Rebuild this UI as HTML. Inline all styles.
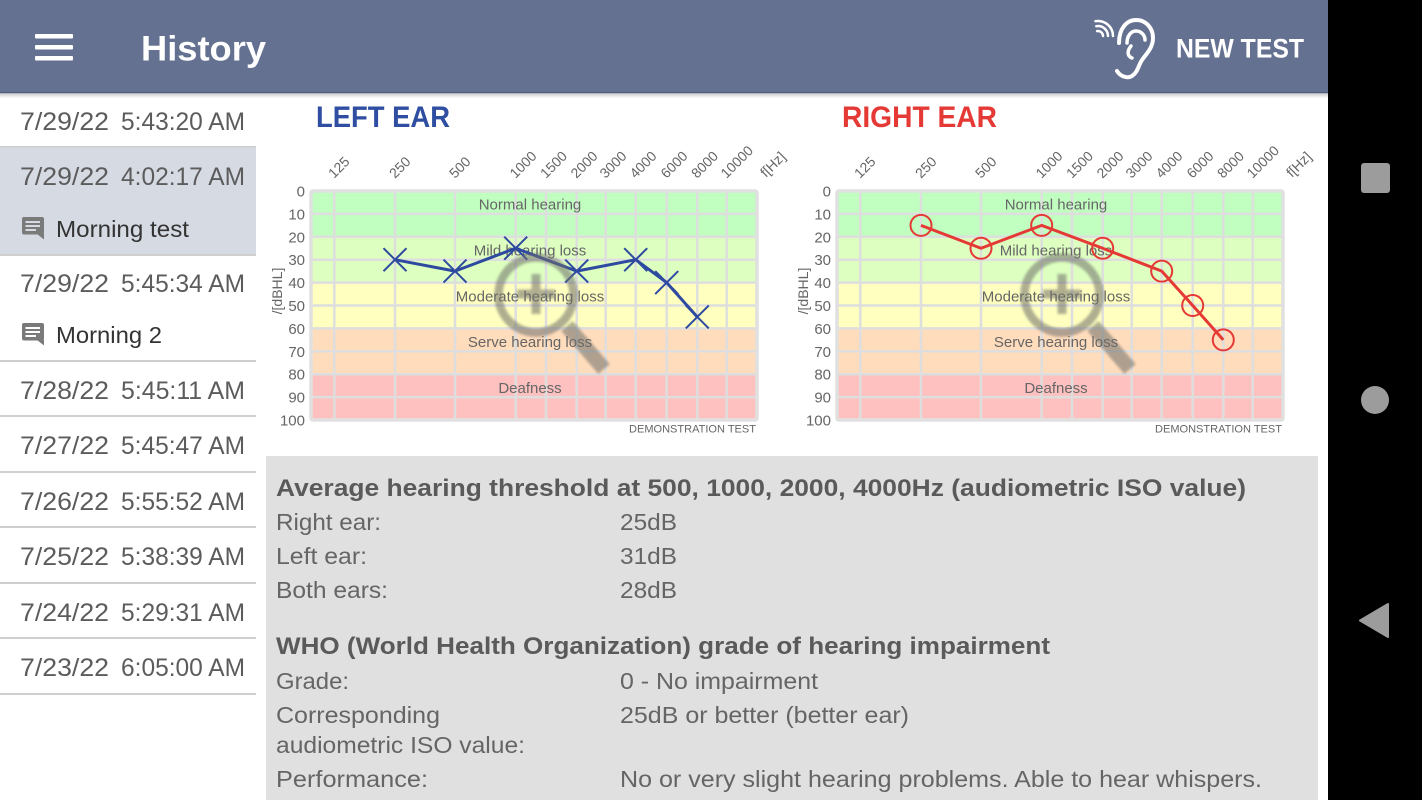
<!DOCTYPE html>
<html>
<head>
<meta charset="utf-8">
<style>
  html,body{margin:0;padding:0;background:#fff;}
  body{width:1422px;height:800px;overflow:hidden;}
  svg{display:block;font-family:"Liberation Sans", Arial, sans-serif;}
</style>
</head>
<body>
<svg width="1422" height="800" viewBox="0 0 1422 800" xmlns="http://www.w3.org/2000/svg">
  <defs>
    <linearGradient id="sh" x1="0" y1="0" x2="0" y2="1">
      <stop offset="0" stop-color="#000" stop-opacity="0.22"/>
      <stop offset="1" stop-color="#000" stop-opacity="0"/>
    </linearGradient>
    <filter id="bl" x="-20%" y="-20%" width="140%" height="140%">
      <feGaussianBlur stdDeviation="1.2"/>
    </filter>
  </defs>

  <!-- page background -->
  <rect x="0" y="0" width="1422" height="800" fill="#ffffff"/>

  <!-- ============ SIDEBAR ============ -->
  <rect x="0" y="147" width="256" height="108" fill="#d6dae3"/>
  <g fill="#cfcfcf">
    <rect x="0" y="146" width="256" height="1.5"/>
    <rect x="0" y="254" width="256" height="2"/>
    <rect x="0" y="360" width="256" height="2"/>
    <rect x="0" y="415" width="256" height="2"/>
    <rect x="0" y="471" width="256" height="2"/>
    <rect x="0" y="526" width="256" height="2"/>
    <rect x="0" y="582" width="256" height="2"/>
    <rect x="0" y="637" width="256" height="2"/>
    <rect x="0" y="693" width="256" height="2"/>
  </g>
  <g font-size="25" fill="#5c5c5c">
    <text x="20" y="130" textLength="89" lengthAdjust="spacingAndGlyphs">7/29/22</text>
    <text x="121" y="130" textLength="124" lengthAdjust="spacingAndGlyphs">5:43:20 AM</text>
    <text x="20" y="185" textLength="89" lengthAdjust="spacingAndGlyphs">7/29/22</text>
    <text x="121" y="185" textLength="124" lengthAdjust="spacingAndGlyphs">4:02:17 AM</text>
    <text x="20" y="292" textLength="89" lengthAdjust="spacingAndGlyphs">7/29/22</text>
    <text x="121" y="292" textLength="124" lengthAdjust="spacingAndGlyphs">5:45:34 AM</text>
    <text x="20" y="399" textLength="89" lengthAdjust="spacingAndGlyphs">7/28/22</text>
    <text x="121" y="399" textLength="124" lengthAdjust="spacingAndGlyphs">5:45:11 AM</text>
    <text x="20" y="454" textLength="89" lengthAdjust="spacingAndGlyphs">7/27/22</text>
    <text x="121" y="454" textLength="124" lengthAdjust="spacingAndGlyphs">5:45:47 AM</text>
    <text x="20" y="510" textLength="89" lengthAdjust="spacingAndGlyphs">7/26/22</text>
    <text x="121" y="510" textLength="124" lengthAdjust="spacingAndGlyphs">5:55:52 AM</text>
    <text x="20" y="565" textLength="89" lengthAdjust="spacingAndGlyphs">7/25/22</text>
    <text x="121" y="565" textLength="124" lengthAdjust="spacingAndGlyphs">5:38:39 AM</text>
    <text x="20" y="621" textLength="89" lengthAdjust="spacingAndGlyphs">7/24/22</text>
    <text x="121" y="621" textLength="124" lengthAdjust="spacingAndGlyphs">5:29:31 AM</text>
    <text x="20" y="676" textLength="89" lengthAdjust="spacingAndGlyphs">7/23/22</text>
    <text x="121" y="676" textLength="124" lengthAdjust="spacingAndGlyphs">6:05:00 AM</text>
  </g>
  <!-- comment icons -->
  <g>
    <rect x="22" y="217" width="22" height="17.5" rx="2" fill="#7a7a7a"/>
    <polygon points="37,234 44,234 44,239.5" fill="#7a7a7a"/>
    <rect x="25.5" y="221" width="14.5" height="2" fill="#d6dae3"/>
    <rect x="25.5" y="225" width="14.5" height="2" fill="#d6dae3"/>
    <rect x="25.5" y="229" width="10.5" height="2" fill="#d6dae3"/>

    <rect x="22" y="323" width="22" height="17.5" rx="2" fill="#7a7a7a"/>
    <polygon points="37,340 44,340 44,345.5" fill="#7a7a7a"/>
    <rect x="25.5" y="327" width="14.5" height="2" fill="#fff"/>
    <rect x="25.5" y="331" width="14.5" height="2" fill="#fff"/>
    <rect x="25.5" y="335" width="10.5" height="2" fill="#fff"/>
  </g>
  <g font-size="23" fill="#333">
    <text x="56" y="237" textLength="133" lengthAdjust="spacingAndGlyphs">Morning test</text>
    <text x="56" y="343" textLength="106" lengthAdjust="spacingAndGlyphs">Morning 2</text>
  </g>

  <!-- ============ LEFT CHART ============ -->
  <text x="316" y="127" font-size="30" font-weight="bold" fill="#2f4ea1" textLength="134" lengthAdjust="spacingAndGlyphs">LEFT EAR</text>
  <g>
    <rect x="311" y="191" width="446" height="45.8" fill="#c0ffc0"/>
    <rect x="311" y="236.8" width="446" height="45.8" fill="#ddffc0"/>
    <rect x="311" y="282.6" width="446" height="45.8" fill="#ffffc0"/>
    <rect x="311" y="328.4" width="446" height="45.8" fill="#ffdcbc"/>
    <rect x="311" y="374.2" width="446" height="45.8" fill="#ffc0c0"/>
    <g stroke="#dedede" stroke-width="2.5">
      <line x1="311" y1="213.9" x2="757" y2="213.9"/>
      <line x1="311" y1="236.8" x2="757" y2="236.8"/>
      <line x1="311" y1="259.7" x2="757" y2="259.7"/>
      <line x1="311" y1="282.6" x2="757" y2="282.6"/>
      <line x1="311" y1="305.5" x2="757" y2="305.5"/>
      <line x1="311" y1="328.4" x2="757" y2="328.4"/>
      <line x1="311" y1="351.3" x2="757" y2="351.3"/>
      <line x1="311" y1="374.2" x2="757" y2="374.2"/>
      <line x1="311" y1="397.1" x2="757" y2="397.1"/>
      <line x1="334.3" y1="191" x2="334.3" y2="420"/>
      <line x1="395" y1="191" x2="395" y2="420"/>
      <line x1="455" y1="191" x2="455" y2="420"/>
      <line x1="515.7" y1="191" x2="515.7" y2="420"/>
      <line x1="546" y1="191" x2="546" y2="420"/>
      <line x1="576.7" y1="191" x2="576.7" y2="420"/>
      <line x1="605.7" y1="191" x2="605.7" y2="420"/>
      <line x1="635.7" y1="191" x2="635.7" y2="420"/>
      <line x1="666.7" y1="191" x2="666.7" y2="420"/>
      <line x1="697.3" y1="191" x2="697.3" y2="420"/>
      <line x1="726.7" y1="191" x2="726.7" y2="420"/>
    </g>
    <rect x="311" y="191" width="446" height="229" rx="2" fill="none" stroke="#e0e0e0" stroke-width="3.5"/>
    <g font-size="15" fill="#666" text-anchor="middle">
      <text x="530" y="209.5">Normal hearing</text>
      <text x="530" y="255.5">Mild hearing loss</text>
      <text x="530" y="301.5">Moderate hearing loss</text>
      <text x="530" y="347">Serve hearing loss</text>
      <text x="530" y="393">Deafness</text>
    </g>
    <g font-size="15" fill="#666" text-anchor="end">
      <text x="305" y="196.5">0</text>
      <text x="305" y="219.4">10</text>
      <text x="305" y="242.3">20</text>
      <text x="305" y="265.2">30</text>
      <text x="305" y="288.1">40</text>
      <text x="305" y="311">50</text>
      <text x="305" y="333.9">60</text>
      <text x="305" y="356.8">70</text>
      <text x="305" y="379.7">80</text>
      <text x="305" y="402.6">90</text>
      <text x="305" y="425.5">100</text>
    </g>
    <text x="0" y="0" font-size="14" fill="#666" text-anchor="middle" transform="translate(282,291) rotate(-90)">/[dBHL]</text>
    <g font-size="14" fill="#666">
      <text transform="translate(334,179) rotate(-45)">125</text>
      <text transform="translate(395,179) rotate(-45)">250</text>
      <text transform="translate(455,179) rotate(-45)">500</text>
      <text transform="translate(515.5,179) rotate(-45)">1000</text>
      <text transform="translate(546,179) rotate(-45)">1500</text>
      <text transform="translate(576.5,179) rotate(-45)">2000</text>
      <text transform="translate(605.5,179) rotate(-45)">3000</text>
      <text transform="translate(635.5,179) rotate(-45)">4000</text>
      <text transform="translate(666.5,179) rotate(-45)">6000</text>
      <text transform="translate(697,179) rotate(-45)">8000</text>
      <text transform="translate(726.5,179) rotate(-45)">10000</text>
      <text transform="translate(766,178) rotate(-45)">f[Hz]</text>
    </g>
    <text x="756" y="432.5" font-size="11" fill="#666" text-anchor="end" textLength="127" lengthAdjust="spacingAndGlyphs">DEMONSTRATION TEST</text>

    <!-- data -->
    <polyline points="395,259.7 455,271.15 515.7,248.25 576.7,271.15 635.7,259.7 666.7,282.6 697.3,316.95" fill="none" stroke="#2e49a0" stroke-width="3" stroke-linejoin="round"/>
    <g stroke="#2e49a0" stroke-width="2">
      <path d="M383.5,248.2 L406.5,271.2 M383.5,271.2 L406.5,248.2"/>
      <path d="M443.5,259.6 L466.5,282.6 M443.5,282.6 L466.5,259.6"/>
      <path d="M504.2,236.7 L527.2,259.7 M504.2,259.7 L527.2,236.7"/>
      <path d="M565.2,259.6 L588.2,282.6 M565.2,282.6 L588.2,259.6"/>
      <path d="M624.2,248.2 L647.2,271.2 M624.2,271.2 L647.2,248.2"/>
      <path d="M655.2,271.1 L678.2,294.1 M655.2,294.1 L678.2,271.1"/>
      <path d="M685.8,305.4 L708.8,328.4 M685.8,328.4 L708.8,305.4"/>
    </g>
    <!-- magnifier -->
    <g opacity="0.55" stroke="#6e6e6a" fill="none" filter="url(#bl)">
      <circle cx="536" cy="295" r="37.5" stroke-width="8.5"/>
      <line x1="536" y1="274" x2="536" y2="314" stroke-width="9"/>
      <line x1="517" y1="294" x2="555" y2="294" stroke-width="9"/>
      <line x1="567" y1="326" x2="604" y2="369" stroke-width="15"/>
    </g>
  </g>

  <!-- ============ RIGHT CHART ============ -->
  <text x="842" y="127" font-size="30" font-weight="bold" fill="#e53935" textLength="155" lengthAdjust="spacingAndGlyphs">RIGHT EAR</text>
  <g transform="translate(526,0)">
    <rect x="311" y="191" width="446" height="45.8" fill="#c0ffc0"/>
    <rect x="311" y="236.8" width="446" height="45.8" fill="#ddffc0"/>
    <rect x="311" y="282.6" width="446" height="45.8" fill="#ffffc0"/>
    <rect x="311" y="328.4" width="446" height="45.8" fill="#ffdcbc"/>
    <rect x="311" y="374.2" width="446" height="45.8" fill="#ffc0c0"/>
    <g stroke="#dedede" stroke-width="2.5">
      <line x1="311" y1="213.9" x2="757" y2="213.9"/>
      <line x1="311" y1="236.8" x2="757" y2="236.8"/>
      <line x1="311" y1="259.7" x2="757" y2="259.7"/>
      <line x1="311" y1="282.6" x2="757" y2="282.6"/>
      <line x1="311" y1="305.5" x2="757" y2="305.5"/>
      <line x1="311" y1="328.4" x2="757" y2="328.4"/>
      <line x1="311" y1="351.3" x2="757" y2="351.3"/>
      <line x1="311" y1="374.2" x2="757" y2="374.2"/>
      <line x1="311" y1="397.1" x2="757" y2="397.1"/>
      <line x1="334.3" y1="191" x2="334.3" y2="420"/>
      <line x1="395" y1="191" x2="395" y2="420"/>
      <line x1="455" y1="191" x2="455" y2="420"/>
      <line x1="515.7" y1="191" x2="515.7" y2="420"/>
      <line x1="546" y1="191" x2="546" y2="420"/>
      <line x1="576.7" y1="191" x2="576.7" y2="420"/>
      <line x1="605.7" y1="191" x2="605.7" y2="420"/>
      <line x1="635.7" y1="191" x2="635.7" y2="420"/>
      <line x1="666.7" y1="191" x2="666.7" y2="420"/>
      <line x1="697.3" y1="191" x2="697.3" y2="420"/>
      <line x1="726.7" y1="191" x2="726.7" y2="420"/>
    </g>
    <rect x="311" y="191" width="446" height="229" rx="2" fill="none" stroke="#e0e0e0" stroke-width="3.5"/>
    <g font-size="15" fill="#666" text-anchor="middle">
      <text x="530" y="209.5">Normal hearing</text>
      <text x="530" y="255.5">Mild hearing loss</text>
      <text x="530" y="301.5">Moderate hearing loss</text>
      <text x="530" y="347">Serve hearing loss</text>
      <text x="530" y="393">Deafness</text>
    </g>
    <g font-size="15" fill="#666" text-anchor="end">
      <text x="305" y="196.5">0</text>
      <text x="305" y="219.4">10</text>
      <text x="305" y="242.3">20</text>
      <text x="305" y="265.2">30</text>
      <text x="305" y="288.1">40</text>
      <text x="305" y="311">50</text>
      <text x="305" y="333.9">60</text>
      <text x="305" y="356.8">70</text>
      <text x="305" y="379.7">80</text>
      <text x="305" y="402.6">90</text>
      <text x="305" y="425.5">100</text>
    </g>
    <text x="0" y="0" font-size="14" fill="#666" text-anchor="middle" transform="translate(282,291) rotate(-90)">/[dBHL]</text>
    <g font-size="14" fill="#666">
      <text transform="translate(334,179) rotate(-45)">125</text>
      <text transform="translate(395,179) rotate(-45)">250</text>
      <text transform="translate(455,179) rotate(-45)">500</text>
      <text transform="translate(515.5,179) rotate(-45)">1000</text>
      <text transform="translate(546,179) rotate(-45)">1500</text>
      <text transform="translate(576.5,179) rotate(-45)">2000</text>
      <text transform="translate(605.5,179) rotate(-45)">3000</text>
      <text transform="translate(635.5,179) rotate(-45)">4000</text>
      <text transform="translate(666.5,179) rotate(-45)">6000</text>
      <text transform="translate(697,179) rotate(-45)">8000</text>
      <text transform="translate(726.5,179) rotate(-45)">10000</text>
      <text transform="translate(766,178) rotate(-45)">f[Hz]</text>
    </g>
    <text x="756" y="432.5" font-size="11" fill="#666" text-anchor="end" textLength="127" lengthAdjust="spacingAndGlyphs">DEMONSTRATION TEST</text>

    <!-- data -->
    <polyline points="395,225.35 455,248.25 515.7,225.35 576.7,248.25 635.7,271.15 666.7,305.5 697.3,339.85" fill="none" stroke="#e53935" stroke-width="3" stroke-linejoin="round"/>
    <g stroke="#e53935" stroke-width="2" fill="none">
      <circle cx="395" cy="225.35" r="10.5"/>
      <circle cx="455" cy="248.25" r="10.5"/>
      <circle cx="515.7" cy="225.35" r="10.5"/>
      <circle cx="576.7" cy="248.25" r="10.5"/>
      <circle cx="635.7" cy="271.15" r="10.5"/>
      <circle cx="666.7" cy="305.5" r="10.5"/>
      <circle cx="697.3" cy="339.85" r="10.5"/>
    </g>
    <!-- magnifier -->
    <g opacity="0.55" stroke="#6e6e6a" fill="none" filter="url(#bl)">
      <circle cx="536" cy="295" r="37.5" stroke-width="8.5"/>
      <line x1="536" y1="274" x2="536" y2="314" stroke-width="9"/>
      <line x1="517" y1="294" x2="555" y2="294" stroke-width="9"/>
      <line x1="567" y1="326" x2="604" y2="369" stroke-width="15"/>
    </g>
  </g>

  <!-- ============ INFO PANEL ============ -->
  <rect x="266" y="456" width="1052" height="344" fill="#e0e0e0"/>
  <g font-size="24" font-weight="bold" fill="#5a5a5a">
    <text x="276" y="496" textLength="970" lengthAdjust="spacingAndGlyphs">Average hearing threshold at 500, 1000, 2000, 4000Hz (audiometric ISO value)</text>
    <text x="276" y="654" textLength="774" lengthAdjust="spacingAndGlyphs">WHO (World Health Organization) grade of hearing impairment</text>
  </g>
  <g font-size="23" fill="#656565">
    <text x="276" y="530" textLength="105" lengthAdjust="spacingAndGlyphs">Right ear:</text>
    <text x="276" y="564" textLength="91" lengthAdjust="spacingAndGlyphs">Left ear:</text>
    <text x="276" y="598" textLength="112" lengthAdjust="spacingAndGlyphs">Both ears:</text>
    <text x="620" y="530" textLength="57" lengthAdjust="spacingAndGlyphs">25dB</text>
    <text x="620" y="564" textLength="57" lengthAdjust="spacingAndGlyphs">31dB</text>
    <text x="620" y="598" textLength="57" lengthAdjust="spacingAndGlyphs">28dB</text>
    <text x="276" y="689" textLength="73" lengthAdjust="spacingAndGlyphs">Grade:</text>
    <text x="276" y="723" textLength="164" lengthAdjust="spacingAndGlyphs">Corresponding</text>
    <text x="276" y="753" textLength="249" lengthAdjust="spacingAndGlyphs">audiometric ISO value:</text>
    <text x="276" y="787" textLength="152" lengthAdjust="spacingAndGlyphs">Performance:</text>
    <text x="620" y="689" textLength="198" lengthAdjust="spacingAndGlyphs">0 - No impairment</text>
    <text x="620" y="723" textLength="289" lengthAdjust="spacingAndGlyphs">25dB or better (better ear)</text>
    <text x="620" y="787" textLength="642" lengthAdjust="spacingAndGlyphs">No or very slight hearing problems. Able to hear whispers.</text>
  </g>

  <!-- ============ HEADER ============ -->
  <rect x="0" y="0" width="1328" height="93" fill="#647190"/>
  <rect x="0" y="92" width="1328" height="1.2" fill="#4c5a7c"/>
  <rect x="0" y="93.2" width="1328" height="5" fill="url(#sh)"/>
  <g fill="#ffffff">
    <rect x="35" y="34" width="38" height="4.5" rx="1"/>
    <rect x="35" y="45" width="38" height="4.5" rx="1"/>
    <rect x="35" y="56" width="38" height="4.5" rx="1"/>
  </g>
  <text x="141" y="60.5" font-size="35" font-weight="bold" fill="#ffffff" textLength="125" lengthAdjust="spacingAndGlyphs">History</text>
  <!-- ear icon -->
  <g fill="none" stroke="#ffffff" stroke-linecap="round" stroke-width="4">
    <path d="M1119,43 C1119,28 1127,20 1136,20 C1146,20 1153,28 1153,38 C1153,48 1146,54 1142,60 C1138,66 1138,72 1132,76 C1127,79 1120,76 1117,71"/>
    <path d="M1127,43 C1127,36 1131,31 1136,31 C1141,31 1145,35 1145,40" stroke-width="3.5"/>
    <path d="M1131,46 C1127,51 1127,56 1132,58" stroke-width="3.5"/>
  </g>
  <g fill="none" stroke="#ffffff" stroke-width="2.5" stroke-linecap="round">
    <path d="M1097.1,31.1 A5,5 0 0 1 1103,36"/>
    <path d="M1096.3,26.2 A10,10 0 0 1 1108,36"/>
    <path d="M1095.4,21.2 A15,15 0 0 1 1113,36"/>
  </g>
  <text x="1176" y="57.5" font-size="27" font-weight="bold" fill="#ffffff" textLength="128" lengthAdjust="spacingAndGlyphs">NEW TEST</text>

  <!-- ============ NAV BAR ============ -->
  <rect x="1328" y="0" width="94" height="800" fill="#000000"/>
  <rect x="1361" y="163" width="29" height="30" rx="3" fill="#9c9c9c"/>
  <circle cx="1375" cy="400" r="14" fill="#9c9c9c"/>
  <path d="M1388,604 L1388,637 L1360,620.5 Z" fill="#9c9c9c" stroke="#9c9c9c" stroke-width="2" stroke-linejoin="round"/>
</svg>
</body>
</html>
